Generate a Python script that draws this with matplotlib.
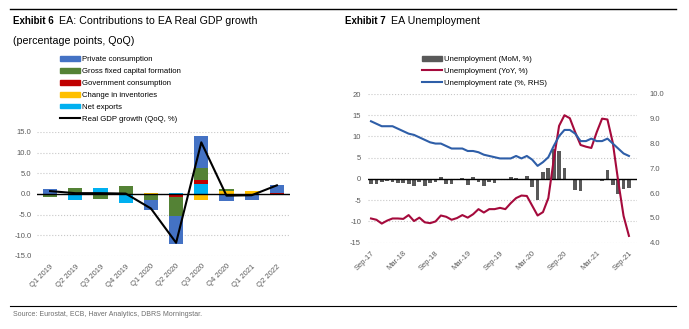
import numpy as np
import matplotlib.pyplot as plt
from matplotlib.patches import Patch
from matplotlib.lines import Line2D

plt.rcParams['font.family'] = ['Liberation Sans', 'DejaVu Sans']
plt.rcParams['axes.unicode_minus'] = False

# --- Exhibit 6: contributions to GDP growth ---
quarters = ["Q1 2019", "Q2 2019", "Q3 2019", "Q4 2019", "Q1 2020",
            "Q2 2020", "Q3 2020", "Q4 2020", "Q1 2021", "Q2 2022"]
private_cons = [1.3, 0.0, 0.0, 0.0, -2.3, -6.7, 7.6, -1.7, -1.4, 1.9]
gfcf = [-0.7, 1.5, -1.3, 2.0, -1.5, -4.5, 2.9, 0.5, 0.0, 0.0]
gov_cons = [0.0, 0.0, 0.0, 0.0, 0.0, -0.8, 1.2, 0.0, 0.0, 0.3]
inventories = [0.0, 0.0, 0.0, 0.0, 0.3, 0.0, -1.5, 0.7, 0.8, 0.0]
net_exports = [0.0, -1.5, 1.5, -2.1, 0.0, 0.3, 2.3, 0.0, 0.0, 0.0]
gdp_growth = [0.7, 0.2, 0.2, 0.1, -3.5, -11.8, 12.5, -0.4, -0.3, 2.1]

# --- Exhibit 7: unemployment, monthly Sep-17 .. Sep-21 ---
month_ticks = ["Sep-17", "Mar-18", "Sep-18", "Mar-19", "Sep-19",
               "Mar-20", "Sep-20", "Mar-21", "Sep-21"]
unemp_mom = [-1.2, -1.3, -0.8, -0.5, -0.7, -0.9, -0.9, -1.2, -1.7, -0.8,
             -1.6, -0.9, -0.6, 0.5, -1.1, -1.3, -0.1, 0.2, -1.4, 0.5,
             -0.6, -1.6, -0.7, -0.9, -0.1, 0.1, 0.5, 0.3, 0.1, 0.7,
             -2.0, -5.0, 1.7, 2.5, 7.0, 6.5, 2.7, -0.3, -2.7, -2.9,
             -0.3, -0.1, 0.0, -0.4, 2.0, -1.5, -3.5, -2.3, -2.2]
unemp_yoy = [-9.3, -9.6, -10.5, -9.8, -9.3, -9.3, -9.4, -8.5, -9.9, -9.1,
             -10.2, -10.4, -10.0, -8.6, -8.9, -9.6, -9.2, -8.5, -9.1, -8.3,
             -7.1, -7.9, -7.1, -7.1, -6.8, -7.1, -5.7, -4.5, -3.9, -4.0,
             -6.3, -8.6, -7.8, -4.5, 4.5, 12.5, 15.0, 14.3, 11.0, 8.0,
             7.6, 7.3, 11.0, 14.2, 14.0, 8.5, -0.5, -8.7, -13.4]
unemp_rate = [8.9, 8.8, 8.7, 8.7, 8.7, 8.6, 8.5, 8.4, 8.35, 8.25,
              8.15, 8.05, 8.0, 8.0, 7.9, 7.8, 7.8, 7.8, 7.7, 7.7,
              7.65, 7.55, 7.5, 7.45, 7.4, 7.4, 7.4, 7.5, 7.4, 7.5,
              7.35, 7.1, 7.25, 7.45, 7.9, 8.3, 8.55, 8.55, 8.4, 8.1,
              8.1, 8.2, 8.1, 8.1, 8.2, 8.0, 7.8, 7.6, 7.5]

W, H = 689, 329
fig = plt.figure(figsize=(W / 100, H / 100), dpi=100)

def fx(px):
    return px / W

def fy(py):
    return 1 - py / H

grid_col = '#C8C8C8'
lab_col = '#595959'
tick_fs = 5.5
leg_fs = 5.6
title_fs = 7.7

# header / footer rules and text
fig.add_artist(Line2D([fx(10), fx(676)], [fy(9), fy(9)], color='black', lw=1.0))
fig.add_artist(Line2D([fx(10), fx(676)], [fy(306), fy(306)], color='black', lw=0.8))
renderer = fig.canvas.get_renderer()
for x0, num, title in [(13, "Exhibit 6", "EA: Contributions to EA Real GDP growth"),
                       (345, "Exhibit 7", "EA Unemployment")]:
    t = fig.text(fx(x0), fy(21), num, fontsize=7.0, fontweight='bold', va='center')
    x1 = t.get_window_extent(renderer).x1
    fig.text(fx(x1 + 5), fy(21), title, fontsize=title_fs, va='center')
fig.text(fx(13), fy(41), "(percentage points, QoQ)", fontsize=title_fs, va='center')
fig.text(fx(13), fy(314), "Source: Eurostat, ECB, Haver Analytics, DBRS Morningstar.",
         fontsize=5.0, color='#6E6E6E', va='center')

# ---------------- left chart ----------------
ax = fig.add_axes([fx(37), fy(256), fx(290 - 37), (256 - 132) / H])
x = np.arange(len(quarters))
series = [
    (net_exports, '#00B0F0', "Net exports"),
    (inventories, '#FFC000', "Change in inventories"),
    (gov_cons, '#C00000', "Government consumption"),
    (gfcf, '#548235', "Gross fixed capital formation"),
    (private_cons, '#4472C4', "Private consumption"),
]
pos = np.zeros(len(x))
neg = np.zeros(len(x))
for vals, col, name in series:
    v = np.array(vals)
    bottom = np.where(v >= 0, pos, neg)
    ax.bar(x, v, bottom=bottom, width=0.56, color=col, zorder=2)
    pos = pos + np.clip(v, 0, None)
    neg = neg + np.clip(v, None, 0)
ax.axhline(0, color='black', lw=1.0, zorder=3)
ax.plot(x, gdp_growth, color='black', lw=1.5, zorder=4)

ax.set_xlim(-0.52, 9.52)
ax.set_ylim(-15, 15)
ax.set_yticks(np.arange(-15, 16, 5))
ax.set_yticklabels([f"{t:.1f}" for t in np.arange(-15, 16, 5)])
ax.set_xticks(x)
ax.set_xticklabels(quarters, rotation=45, ha='right', rotation_mode='anchor')
ax.yaxis.grid(True, color=grid_col, ls=':', lw=0.8)
ax.set_axisbelow(True)
for s in ax.spines.values():
    s.set_visible(False)
ax.tick_params(length=0, labelsize=tick_fs, labelcolor=lab_col, pad=4)
ax.tick_params(axis='x', pad=5)

h6 = [Patch(color=c, label=n) for _, c, n in series[::-1]]
h6.append(Line2D([], [], color='black', lw=1.5, label="Real GDP growth (QoQ, %)"))
fig.legend(handles=h6, loc='upper left', bbox_to_anchor=(fx(60), fy(56)),
           frameon=False, fontsize=leg_fs, handlelength=2.6, handleheight=0.6,
           handletextpad=0.2, labelspacing=0.6, borderpad=0, borderaxespad=0)

# ---------------- right chart ----------------
bx = fig.add_axes([fx(368), fy(242.7), fx(637 - 368), (242.7 - 94) / H])
m = np.arange(len(unemp_mom))
bx.bar(m, unemp_mom, width=0.7, color='#595959', zorder=2)
bx.axhline(0, color='black', lw=1.0, zorder=3)
bx.plot(m, unemp_yoy, color='#A50A3C', lw=1.5, zorder=4)
bx.set_xlim(-0.56, 49.5)
bx.set_ylim(-15, 20)
bx.set_yticks(np.arange(-15, 21, 5))
bx.set_xticks(np.arange(0, 49, 6))
bx.set_xticklabels(month_ticks, rotation=45, ha='right', rotation_mode='anchor')
bx.yaxis.grid(True, color=grid_col, ls=':', lw=0.8)
bx.set_axisbelow(True)

bx2 = bx.twinx()
bx2.plot(m, unemp_rate, color='#2E5EA8', lw=1.5, zorder=4)
bx2.set_ylim(4, 10)
bx2.set_yticks(np.arange(4, 10.1, 1))
bx2.set_yticklabels([f"{t:.1f}" for t in np.arange(4, 10.1, 1)])
for a in (bx, bx2):
    for s in a.spines.values():
        s.set_visible(False)
    a.tick_params(length=0, labelsize=tick_fs, labelcolor=lab_col, pad=5)
bx.tick_params(axis='x', pad=5)
bx2.tick_params(axis='y', pad=9)

h7 = [Patch(color='#595959', label="Unemployment (MoM, %)"),
      Line2D([], [], color='#A50A3C', lw=1.5, label="Unemployment (YoY, %)"),
      Line2D([], [], color='#2E5EA8', lw=1.5, label="Unemployment rate (%, RHS)")]
fig.legend(handles=h7, loc='upper left', bbox_to_anchor=(fx(422), fy(56)),
           frameon=False, fontsize=leg_fs, handlelength=2.6, handleheight=0.6,
           handletextpad=0.2, labelspacing=0.6, borderpad=0, borderaxespad=0)

fig.savefig("out.png", dpi=100)
